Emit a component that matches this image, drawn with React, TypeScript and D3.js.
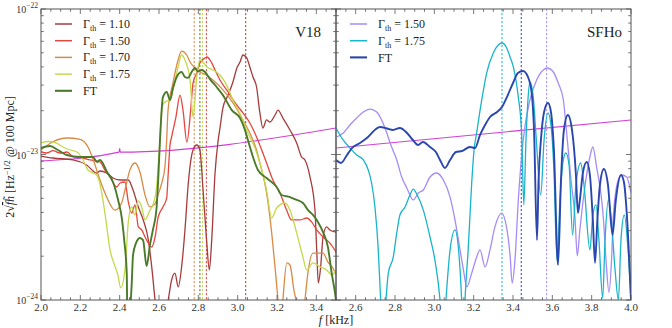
import React from 'react';
import * as d3 from 'd3';

type P = [number, number];
const UNIT = 1e-23; // amplitudes below are in units of 1e-23

// ---------- V18 panel (left) ----------
const v18_G110: P[] = [
  [2.0, 0.976], [2.061, 0.946], [2.163, 0.917], [2.232, 0.847], [2.283, 0.746], [2.3, 0.77], [2.334, 0.746],
  [2.366, 0.689], [2.402, 0.668], [2.444, 0.668], [2.468, 0.57], [2.495, 0.436], [2.52, 0.355], [2.546, 0.258],
  [2.563, 0.169], [2.58, 0.1], [2.61, 0.05], [2.647, 0.1], [2.664, 0.137], [2.681, 0.153], [2.698, 0.123],
  [2.715, 0.169], [2.732, 0.303], [2.749, 0.637], [2.773, 1.074], [2.792, 1.162], [2.808, 1.074], [2.824, 0.57],
  [2.842, 0.258], [2.856, 0.161], [2.868, 0.258], [2.885, 0.746], [2.901, 1.258], [2.91, 1.521], [2.925, 2.09],
  [2.951, 2.56], [2.976, 3.15], [2.996, 3.93], [3.012, 4.32], [3.027, 4.83], [3.046, 4.61], [3.062, 3.99],
  [3.078, 3.41], [3.096, 2.91], [3.113, 1.93], [3.128, 1.521], [3.147, 1.727], [3.164, 1.673], [3.19, 1.868],
  [3.205, 2.02], [3.23, 1.78], [3.266, 1.474], [3.3, 1.2], [3.325, 0.961], [3.342, 0.917], [3.368, 0.7],
  [3.393, 0.415], [3.402, 0.221], [3.41, 0.131], [3.422, 0.169], [3.434, 0.271], [3.452, 0.318], [3.469, 0.303],
  [3.5, 0.293],
];
const v18_G150: P[] = [
  [2.0, 1.045], [2.029, 1.024], [2.061, 1.062], [2.097, 1.024], [2.132, 1.04], [2.163, 0.966], [2.214, 0.946],
  [2.249, 0.917], [2.3, 0.888], [2.325, 0.782], [2.351, 0.7], [2.385, 0.598], [2.402, 0.637], [2.427, 0.647],
  [2.444, 0.472], [2.461, 0.396], [2.478, 0.45], [2.495, 0.318], [2.512, 0.303], [2.529, 0.271], [2.546, 0.246],
  [2.563, 0.231], [2.58, 0.271], [2.596, 0.372], [2.62, 0.436], [2.639, 0.502], [2.647, 0.746], [2.656, 1.162],
  [2.664, 1.319], [2.686, 1.81], [2.707, 2.56], [2.722, 2.02], [2.742, 1.219], [2.761, 2.02], [2.773, 3.1],
  [2.792, 3.63], [2.808, 4.26], [2.834, 4.61], [2.844, 4.68], [2.868, 4.26], [2.885, 3.81], [2.91, 3.25],
  [2.944, 2.78], [2.961, 2.56], [2.995, 2.19], [3.027, 1.93], [3.062, 1.646], [3.096, 1.319], [3.128, 1.024],
  [3.147, 0.874], [3.179, 0.668], [3.215, 0.544], [3.249, 0.415], [3.274, 0.355], [3.317, 0.355], [3.351, 0.366],
  [3.376, 0.344], [3.402, 0.303], [3.434, 0.271], [3.469, 0.246], [3.5, 0.214],
];
const v18_G170: P[] = [
  [2.0, 1.074], [2.061, 1.224], [2.131, 1.298], [2.198, 1.272], [2.239, 1.126], [2.266, 0.917], [2.3, 0.668],
  [2.334, 0.51], [2.376, 0.415], [2.41, 0.464], [2.427, 0.57], [2.452, 0.782], [2.478, 0.874], [2.503, 0.758],
  [2.529, 0.527], [2.554, 0.436], [2.579, 0.457], [2.595, 0.527], [2.614, 0.637], [2.63, 0.821], [2.639, 1.258],
  [2.646, 2.02], [2.671, 3.1], [2.697, 4.46], [2.715, 5.14], [2.741, 4.83], [2.758, 4.32], [2.783, 3.93],
  [2.808, 3.69], [2.842, 3.52], [2.874, 3.25], [2.925, 2.78], [2.976, 2.26], [3.027, 1.727], [3.071, 1.319],
  [3.096, 1.074], [3.113, 0.874], [3.147, 0.544], [3.173, 0.289], [3.19, 0.169], [3.205, 0.1], [3.218, 0.06],
  [3.23, 0.1], [3.25, 0.18], [3.266, 0.174], [3.286, 0.117], [3.296, 0.1], [3.319, 0.06], [3.342, 0.1],
  [3.357, 0.153], [3.383, 0.21], [3.408, 0.21], [3.434, 0.21], [3.459, 0.182], [3.484, 0.166], [3.5, 0.149],
];
const v18_G175: P[] = [
  [2.0, 1.2], [2.036, 1.228], [2.076, 1.2], [2.112, 1.126], [2.147, 1.074], [2.183, 1.04], [2.214, 0.917],
  [2.239, 0.782], [2.283, 0.723], [2.3, 0.627], [2.325, 0.396], [2.351, 0.221], [2.376, 0.171], [2.391, 0.149],
  [2.405, 0.121], [2.427, 0.161], [2.444, 0.344], [2.461, 0.436], [2.478, 0.384], [2.495, 0.479], [2.512, 0.436],
  [2.529, 0.355], [2.554, 0.415], [2.569, 0.45], [2.588, 0.598], [2.596, 0.847], [2.605, 1.258], [2.613, 1.96],
  [2.625, 2.26], [2.639, 2.33], [2.656, 2.37], [2.671, 2.78], [2.697, 3.99], [2.715, 4.83], [2.732, 4.46],
  [2.758, 3.25], [2.773, 1.81], [2.792, 3.41], [2.808, 4.46], [2.823, 4.32], [2.844, 3.99], [2.874, 3.81],
  [2.91, 3.52], [2.944, 3.0], [2.976, 2.37], [3.02, 1.81], [3.052, 1.405], [3.088, 1.108], [3.113, 0.874],
  [3.147, 0.57], [3.173, 0.366], [3.198, 0.429], [3.24, 0.464], [3.266, 0.415], [3.3, 0.289], [3.332, 0.197],
  [3.351, 0.161], [3.383, 0.18], [3.419, 0.169], [3.452, 0.161], [3.478, 0.149], [3.5, 0.161],
];
const v18_FT: P[] = [
  [2.0, 1.108], [2.046, 1.144], [2.086, 1.074], [2.131, 0.992], [2.198, 0.961], [2.264, 0.961], [2.285, 0.888],
  [2.3, 0.917], [2.336, 0.758], [2.366, 0.647], [2.392, 0.487], [2.41, 0.372], [2.423, 0.258], [2.436, 0.153],
  [2.44, 0.06], [2.461, 0.127], [2.468, 0.204], [2.483, 0.246], [2.503, 0.267], [2.519, 0.258], [2.537, 0.171],
  [2.554, 0.239], [2.569, 0.303], [2.588, 0.436], [2.597, 0.723], [2.605, 1.258], [2.62, 2.48], [2.639, 2.69],
  [2.656, 2.37], [2.671, 2.86], [2.69, 3.41], [2.715, 3.69], [2.732, 3.41], [2.747, 3.36], [2.766, 3.69],
  [2.783, 3.93], [2.798, 3.71], [2.817, 3.81], [2.834, 3.69], [2.859, 3.3], [2.893, 2.91], [2.925, 2.56],
  [2.97, 2.02], [3.012, 1.78], [3.037, 1.474], [3.052, 1.258], [3.078, 0.961], [3.103, 0.782], [3.147, 0.689],
  [3.198, 0.598], [3.224, 0.527], [3.266, 0.51], [3.3, 0.487], [3.332, 0.464], [3.358, 0.415], [3.383, 0.384],
  [3.408, 0.344], [3.434, 0.293], [3.459, 0.231], [3.478, 0.153], [3.495, 0.112], [3.5, 0.1],
];
const v18_sens: P[] = [[2.0, 0.902], [2.397, 1.037], [2.4, 1.1], [2.403, 1.038], [3.5, 1.521]];
const v18_peakFreqs = [3.041, 2.841, 2.779, 2.821, 2.808]; // G110, G150, G170, G175, FT

// ---------- SFHo panel (right) ----------
const sfho_G150: P[] = [
  [2.503, 1.319], [2.537, 1.405], [2.571, 1.595], [2.605, 1.78], [2.639, 1.96], [2.673, 2.05], [2.707, 1.96],
  [2.732, 1.727], [2.758, 1.405], [2.783, 1.126], [2.809, 0.917], [2.834, 0.7], [2.86, 0.589], [2.893, 0.487],
  [2.919, 0.544], [2.944, 0.57], [2.978, 0.7], [3.012, 0.746], [3.046, 0.668], [3.08, 0.51], [3.105, 0.355],
  [3.131, 0.221], [3.148, 0.161], [3.165, 0.123], [3.19, 0.153], [3.215, 0.197], [3.232, 0.221], [3.258, 0.169],
  [3.283, 0.221], [3.308, 0.318], [3.342, 0.396], [3.368, 0.313], [3.385, 0.204], [3.396, 0.131], [3.41, 0.188],
  [3.427, 0.487], [3.452, 1.258], [3.486, 2.37], [3.52, 3.25], [3.554, 3.81], [3.574, 3.93], [3.605, 3.69],
  [3.63, 3.1], [3.656, 2.37], [3.673, 1.405], [3.695, 0.668], [3.715, 0.372], [3.727, 0.201], [3.74, 0.303],
  [3.757, 0.487], [3.791, 0.961], [3.806, 1.126], [3.825, 0.821], [3.859, 0.372], [3.873, 0.188], [3.888, 0.113],
  [3.901, 0.188], [3.91, 0.372], [3.935, 0.668], [3.953, 0.723], [3.978, 0.7], [4.0, 0.544],
];
const sfho_G175: P[] = [
  [2.5, 1.521], [2.536, 1.258], [2.571, 1.108], [2.605, 0.992], [2.639, 0.917], [2.664, 0.782], [2.681, 0.637],
  [2.698, 0.436], [2.715, 0.221], [2.727, 0.1], [2.739, 0.05], [2.754, 0.1], [2.766, 0.153], [2.791, 0.197],
  [2.809, 0.289], [2.825, 0.384], [2.851, 0.436], [2.876, 0.527], [2.893, 0.579], [2.913, 0.527], [2.944, 0.415],
  [2.978, 0.271], [3.003, 0.188], [3.029, 0.1], [3.044, 0.05], [3.059, 0.1], [3.08, 0.221], [3.105, 0.303],
  [3.122, 0.231], [3.139, 0.1], [3.148, 0.05], [3.156, 0.1], [3.172, 0.221], [3.19, 0.637], [3.202, 1.074],
  [3.215, 1.405], [3.241, 2.37], [3.266, 3.63], [3.3, 4.99], [3.325, 5.66], [3.344, 5.84], [3.368, 5.4],
  [3.385, 4.68], [3.402, 3.99], [3.415, 3.25], [3.427, 2.48], [3.444, 1.405], [3.455, 0.45], [3.466, 1.258],
  [3.476, 2.37], [3.486, 3.15], [3.502, 2.56], [3.517, 1.36], [3.541, 0.527], [3.558, 1.258], [3.578, 1.93],
  [3.593, 1.595], [3.608, 0.782], [3.624, 0.188], [3.639, 0.487], [3.654, 0.888], [3.669, 1.024], [3.685, 0.847],
  [3.703, 0.28], [3.72, 0.617], [3.744, 0.874], [3.761, 0.617], [3.791, 0.221], [3.806, 0.384], [3.822, 0.45],
  [3.837, 0.258], [3.856, 0.103], [3.868, 0.258], [3.885, 0.487], [3.898, 0.384], [3.919, 0.161], [3.936, 0.1],
  [3.949, 0.258], [3.966, 0.384], [3.985, 0.221], [4.0, 0.1],
];
const sfho_FT: P[] = [
  [2.5, 0.917], [2.525, 0.874], [2.556, 0.992], [2.581, 1.108], [2.622, 1.2], [2.663, 1.319], [2.703, 1.497],
  [2.724, 1.545], [2.759, 1.509], [2.79, 1.474], [2.825, 1.521], [2.861, 1.405], [2.891, 1.258], [2.917, 1.162],
  [2.942, 1.219], [2.978, 1.126], [3.008, 1.04], [3.029, 0.917], [3.054, 0.808], [3.08, 0.917], [3.11, 1.04],
  [3.141, 1.057], [3.181, 1.126], [3.207, 1.108], [3.232, 1.36], [3.258, 1.595], [3.283, 1.81], [3.319, 1.96],
  [3.344, 2.12], [3.369, 2.48], [3.4, 3.1], [3.425, 3.63], [3.451, 3.75], [3.476, 3.41], [3.495, 2.65],
  [3.507, 1.474], [3.522, 0.258], [3.53, 0.668], [3.542, 1.258], [3.558, 1.96], [3.578, 2.26], [3.593, 1.96],
  [3.608, 1.074], [3.629, 0.174], [3.644, 0.668], [3.659, 1.474], [3.679, 1.868], [3.7, 1.474], [3.72, 0.723],
  [3.73, 0.396], [3.74, 0.487], [3.756, 0.758], [3.775, 0.888], [3.791, 0.723], [3.806, 0.355], [3.817, 0.18],
  [3.829, 0.355], [3.842, 0.617], [3.862, 0.795], [3.883, 0.617], [3.906, 0.28], [3.923, 0.487], [3.949, 0.723],
  [3.964, 0.647], [3.979, 0.384], [4.0, 0.1],
];
const sfho_sens: P[] = [[2.5, 1.108], [4.0, 1.726]];
const sfho_peakFreqs = [3.571, 3.344, 3.442]; // G150, G175, FT

// ---------- ticks & labels ----------
const leftTickLabels = [2.0, 2.2, 2.4, 2.6, 2.8, 3.0, 3.2, 3.4];
const rightTickLabels = [2.6, 2.8, 3.0, 3.2, 3.4, 3.6, 3.8, 4.0];
const yTickExponents = [-22, -23, -24];

const leftSeries = [
  { name: '1.10', data: v18_G110, color: '#a63b3b', w: 1.3 },
  { name: '1.50', data: v18_G150, color: '#e5463f', w: 1.3 },
  { name: '1.70', data: v18_G170, color: '#d88b45', w: 1.3 },
  { name: '1.75', data: v18_G175, color: '#c4d94a', w: 1.3 },
  { name: 'FT', data: v18_FT, color: '#4c7a2b', w: 1.9 },
];
const rightSeries = [
  { name: '1.50', data: sfho_G150, color: '#a68bf6', w: 1.3 },
  { name: '1.75', data: sfho_G175, color: '#18b4cb', w: 1.3 },
  { name: 'FT', data: sfho_FT, color: '#2a47ad', w: 1.9 },
];
const SENS = '#d33fd6';
const AX = '#555';
const FONT = '"Liberation Serif", "DejaVu Serif", serif';

const TOP = 9, BOTTOM = 300;
const yScale = d3.scaleLog().domain([1e-24, 1e-22]).range([BOTTOM, TOP]);

function Panel({ id, x, series, sens, peaks, labels, title, showY, legendX }: any) {
  const line = d3.line<P>().x(d => x(d[0])).y(d => yScale(d[1] * UNIT)).curve(d3.curveMonotoneX);
  const [x0, x1] = x.range();
  const minor = x.ticks(30);
  const yMinor = yScale.ticks();
  const sortedPeaks = peaks.map((f: number, i: number) => ({ f, color: series[i].color }));
  return (
    <g>
      <defs>
        <clipPath id={id}>
          <rect x={x0} y={TOP} width={x1 - x0} height={BOTTOM - TOP} />
        </clipPath>
      </defs>
      <g clipPath={`url(#${id})`}>
        {sortedPeaks.map((p: any, i: number) => (
          <line key={i} x1={x(p.f)} x2={x(p.f)} y1={TOP} y2={BOTTOM} stroke={p.color} strokeWidth={1} strokeDasharray="2.2,1.8" />
        ))}
        <path d={line(sens) || ''} fill="none" stroke={SENS} strokeWidth={1.2} />
        {series.map((s: any, i: number) => (
          <path key={i} d={line(s.data) || ''} fill="none" stroke={s.color} strokeWidth={s.w} strokeLinejoin="round" />
        ))}
      </g>
      <rect x={x0} y={TOP} width={x1 - x0} height={BOTTOM - TOP} fill="none" stroke={AX} strokeWidth={1} />
      {minor.map((t: number, i: number) => {
        const major = labels.some((l: number) => Math.abs(l - t) < 1e-6);
        const len = major ? 5 : 2.8;
        return (
          <g key={i}>
            <line x1={x(t)} x2={x(t)} y1={BOTTOM} y2={BOTTOM - len} stroke={AX} strokeWidth={0.8} />
            <line x1={x(t)} x2={x(t)} y1={TOP} y2={TOP + len} stroke={AX} strokeWidth={0.8} />
          </g>
        );
      })}
      {yMinor.map((t: number, i: number) => {
        const major = Math.abs(Math.log10(t) - Math.round(Math.log10(t))) < 1e-6;
        const len = major ? 5 : 2.8;
        return (
          <g key={i}>
            <line x1={x0} x2={x0 + len} y1={yScale(t)} y2={yScale(t)} stroke={AX} strokeWidth={0.8} />
            <line x1={x1} x2={x1 - len} y1={yScale(t)} y2={yScale(t)} stroke={AX} strokeWidth={0.8} />
          </g>
        );
      })}
      {labels.map((l: number, i: number) => (
        <text key={i} x={x(l)} y={311} textAnchor="middle" fontSize={11} fill="#333" fontFamily={FONT}>{l.toFixed(1)}</text>
      ))}
      {showY && yTickExponents.map((e: number, i: number) => (
        <text key={i} x={38} y={yScale(Math.pow(10, e)) + 4} textAnchor="end" fontSize={10} fill="#333" fontFamily={FONT}>
          10<tspan dy={-5} fontSize={7.5}>{'\u2212' + Math.abs(e)}</tspan>
        </text>
      ))}
      <text x={title.x} y={37} textAnchor="end" fontSize={15} fill="#222" fontFamily={FONT}>{title.text}</text>
      {series.map((s: any, i: number) => {
        const yy = 24 + i * 16.7;
        return (
          <g key={i}>
            <line x1={legendX} x2={legendX + 17} y1={yy} y2={yy} stroke={s.color} strokeWidth={s.w + 0.2} />
            {s.name === 'FT' ? (
              <text x={legendX + 28} y={yy + 4.5} fontSize={12} fill="#222" fontFamily={FONT}>FT</text>
            ) : (
              <text x={legendX + 28} y={yy + 4} fontSize={12} fill="#222" fontFamily={FONT}>
                Γ<tspan dy={3} fontSize={8}>th</tspan><tspan dy={-3}>{' = ' + s.name}</tspan>
              </text>
            )}
          </g>
        );
      })}
    </g>
  );
}

export default function App() {
  const xL = d3.scaleLinear().domain([2.0, 3.5]).range([41, 336]);
  const xR = d3.scaleLinear().domain([2.5, 4.0]).range([336, 631]);
  return (
    <svg width={672} height={328} style={{ position: 'absolute', left: 0, top: 0, background: '#fff' }}>
      <rect x={0} y={0} width={672} height={328} fill="#fff" />
      <Panel id="clipL" x={xL} series={leftSeries} sens={v18_sens} peaks={v18_peakFreqs} labels={leftTickLabels}
        title={{ text: 'V18', x: 321 }} showY legendX={55} />
      <Panel id="clipR" x={xR} series={rightSeries} sens={sfho_sens} peaks={sfho_peakFreqs} labels={rightTickLabels}
        title={{ text: 'SFHo', x: 622 }} showY={false} legendX={350} />
      <text x={336} y={324} textAnchor="middle" fontSize={12} fill="#222" fontFamily={FONT}>
        <tspan fontStyle="italic">f</tspan> [kHz]
      </text>
      <text transform="translate(14,157) rotate(-90)" textAnchor="middle" fontSize={12} fill="#222" fontFamily={FONT}>
        2√<tspan fontStyle="italic" textDecoration="overline">f</tspan><tspan fontStyle="italic">{'h\u0303'}</tspan> [Hz<tspan dy={-4} fontSize={8}>{'\u22121/2'}</tspan><tspan dy={4}> @ 100 Mpc]</tspan>
      </text>
    </svg>
  );
}
